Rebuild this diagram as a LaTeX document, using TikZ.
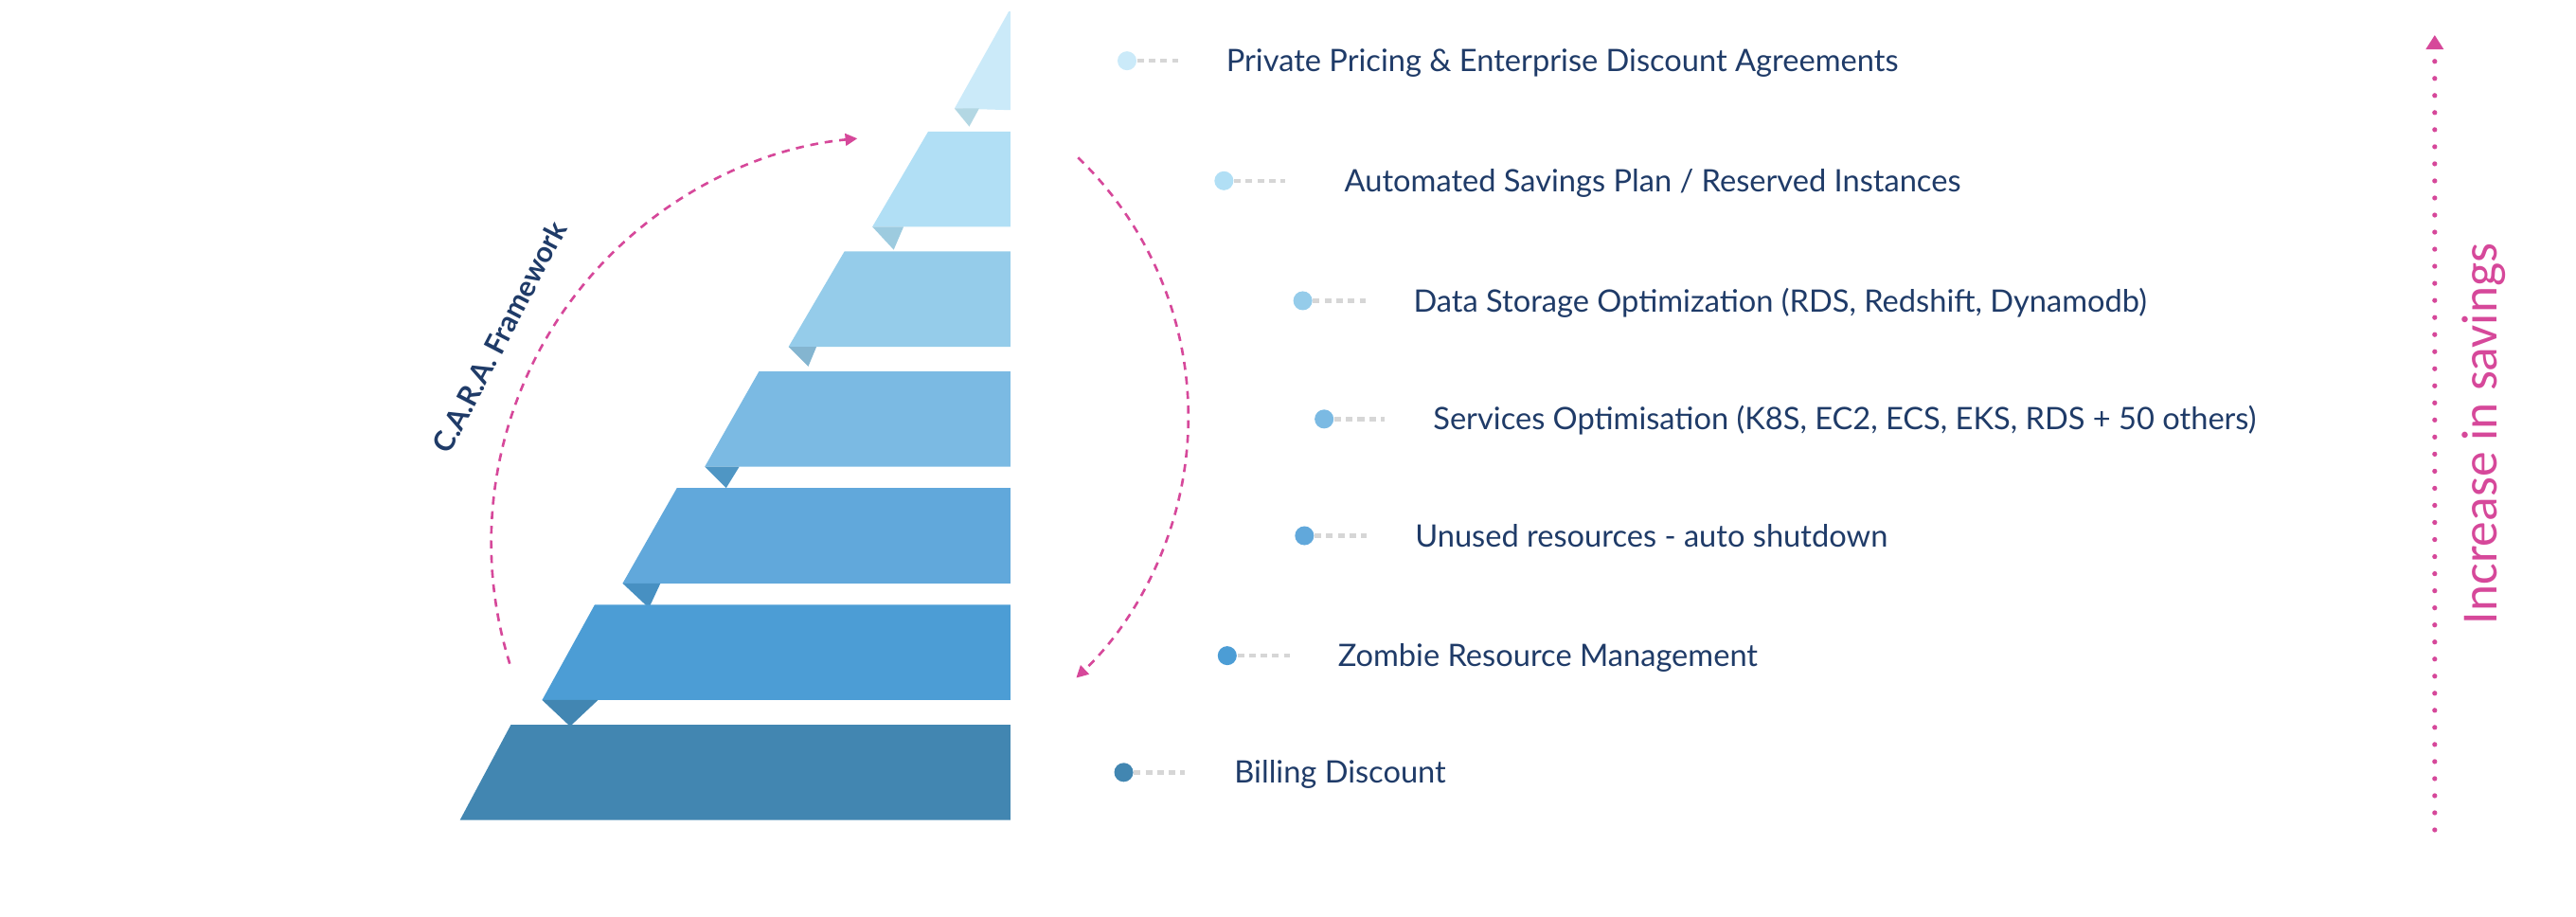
\documentclass[tikz,border=0pt]{standalone}
\usepackage{fontspec}
\setmainfont{Lato}
\newfontfamily\narrowfont{Carlito}
\usetikzlibrary{arrows.meta}
\definecolor{navy}{HTML}{1F3B68}
\definecolor{pinkc}{HTML}{D6489A}
\definecolor{sA}{HTML}{CBEAF9}\definecolor{fA}{HTML}{B3D7E3}
\definecolor{sB}{HTML}{B1DFF5}\definecolor{fB}{HTML}{9DCBDF}
\definecolor{sC}{HTML}{95CCEA}\definecolor{fC}{HTML}{84B5D0}
\definecolor{sD}{HTML}{7BBAE3}\definecolor{fD}{HTML}{4F96C4}
\definecolor{sE}{HTML}{61A8DB}\definecolor{fE}{HTML}{4790C2}
\definecolor{sF}{HTML}{4C9DD5}\definecolor{fF}{HTML}{4286B2}
\definecolor{sG}{HTML}{4286B1}
\definecolor{dashgray}{HTML}{D6D6D6}
\tikzset{
  lbl/.style={anchor=base west, inner sep=0pt, text=navy, font=\fontsize{9.28}{11}\selectfont},
  bullet/.style={circle, inner sep=0pt, minimum size=5.7pt},
  leader/.style={draw=dashgray, line width=1.25pt, dash pattern=on 2pt off 1.5pt},
  cyc/.style={draw=pinkc, line width=0.75pt, dash pattern=on 2.4pt off 2pt, -{Triangle[length=3.6pt,width=3.6pt]}},
}
\begin{document}
\begin{tikzpicture}[x=0.017347cm, y=-0.017347cm]
\useasboundingbox (0,0) rectangle (1568,558);
% steps
\fill[sA] (614,7) -- (615,7) -- (615,67) -- (581,66) -- cycle;
\fill[fA] (581,66) -- (596,66) -- (590,77) -- cycle;
\fill[sB] (565,80) -- (615,80) -- (615,138) -- (531,138) -- cycle;
\fill[fB] (531,138) -- (550,138) -- (544,152) -- cycle;
\fill[sC] (514,153) -- (615,153) -- (615,211) -- (480,211) -- cycle;
\fill[fC] (480,211) -- (497,211) -- (492,223) -- cycle;
\fill[sD] (462,226) -- (615,226) -- (615,284) -- (429,284) -- cycle;
\fill[fD] (429,284) -- (450,284) -- (442,297) -- cycle;
\fill[sE] (412,297) -- (615,297) -- (615,355) -- (379,355) -- cycle;
\fill[fE] (379,355) -- (402,355) -- (395,370) -- cycle;
\fill[sF] (362,368) -- (615,368) -- (615,426) -- (330,426) -- cycle;
\fill[fF] (330,426) -- (364,426) -- (347,442) -- cycle;
\fill[sG] (311,441) -- (615,441) -- (615,499) -- (280,499) -- cycle;
% cycle arcs
\coordinate (Ls) at (310.3,403.9);
\draw[cyc] (Ls) arc[start angle=197.4, end angle=95.6, radius=4.2847cm];
\coordinate (Rs) at (656.2,95.9);
\draw[cyc] (Rs) arc[start angle=46.1, end angle=-46.5, radius=3.799cm];
\node[rotate=62.5, text=navy, font=\bfseries\fontsize{8.6}{10}\selectfont, inner sep=0pt] (cara) at (304,205) {C.A.R.A. Framework};
% labels
\node[bullet, fill=sA] (d1) at (686,37) {};
\coordinate (e1) at (717,37);
\draw[leader] (d1.east) -- (e1);
\node[lbl] (t1) at (746,43.7) {Private Pricing \& Enterprise Discount Agreements};
\node[bullet, fill=sB] (d2) at (745,110) {};
\coordinate (e2) at (782,110);
\draw[leader] (d2.east) -- (e2);
\node[lbl] (t2) at (818,116.7) {Automated Savings Plan / Reserved Instances};
\node[bullet, fill=sC] (d3) at (793,183) {};
\coordinate (e3) at (831,183);
\draw[leader] (d3.east) -- (e3);
\node[lbl] (t3) at (860,189.7) {Data Storage Optimization (RDS, Redshift, Dynamodb)};
\node[bullet, fill=sD] (d4) at (806,255) {};
\coordinate (e4) at (843,255);
\draw[leader] (d4.east) -- (e4);
\node[lbl] (t4) at (872,261.7) {Services Optimisation (K8S, EC2, ECS, EKS, RDS + 50 others)};
\node[bullet, fill=sE] (d5) at (794,326) {};
\coordinate (e5) at (832,326);
\draw[leader] (d5.east) -- (e5);
\node[lbl] (t5) at (861,332.7) {Unused resources - auto shutdown};
\node[bullet, fill=sF] (d6) at (747,399) {};
\coordinate (e6) at (785,399);
\draw[leader] (d6.east) -- (e6);
\node[lbl] (t6) at (814,405.7) {Zombie Resource Management};
\node[bullet, fill=sG] (d7) at (684,470) {};
\coordinate (e7) at (721,470);
\draw[leader] (d7.east) -- (e7);
\node[lbl] (t7) at (751,476.7) {Billing Discount};
% savings axis
\coordinate (vb) at (1482,505);
\coordinate (vt) at (1482,21.3);
\draw[pinkc, line width=1.5pt, line cap=round, dash pattern=on 0pt off 5.13pt, -{Triangle[length=4.3pt,width=5.1pt,line cap=butt]}] (vb) -- (vt);
\node[rotate=90, anchor=base, inner sep=0pt, text=pinkc, font=\narrowfont\fontsize{15.2}{16}\selectfont] (inc) at (1520,264) {Increase in savings};
\end{tikzpicture}
\end{document}
